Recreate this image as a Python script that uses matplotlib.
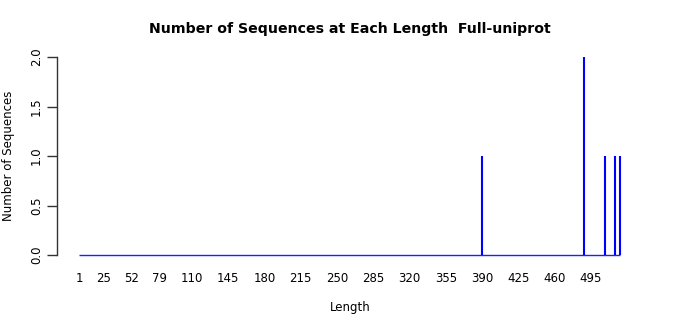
import matplotlib
matplotlib.use("Agg")
import matplotlib.pyplot as plt

# Data
lengths = [390, 488, 509, 518, 523]
counts = [1, 2, 1, 1, 1]
min_length = 1
max_length = 523
xtick_labels = [1, 25, 52, 79, 110, 145, 180, 215, 250, 285, 320, 355, 390, 425, 460, 495]
yticks = [0.0, 0.5, 1.0, 1.5, 2.0]

fig = plt.figure(figsize=(7, 3.15), dpi=100)
ax = fig.add_axes([57/700, 60/315, 583/700, 198/315])

ax.hlines(0, min_length, max_length, color="#2222ee", linewidth=1.0, clip_on=False)
ax.vlines(lengths, 0, counts, color="#0000ff", linewidth=1.5, clip_on=False)

ax.set_xlim(-20.23, 542.3)
ax.set_ylim(0, 2)

for s in ["top", "right", "bottom"]:
    ax.spines[s].set_visible(False)
ax.spines["left"].set_color("#333333")
ax.spines["left"].set_linewidth(1.0)

ax.set_xticks(xtick_labels)
ax.set_xticklabels([str(v) for v in xtick_labels], fontsize=8.5)
ax.tick_params(axis="x", length=0, pad=12)

ax.set_yticks(yticks)
ax.set_yticklabels([f"{v:.1f}" for v in yticks], fontsize=8.5, rotation=90, va="center")
ax.tick_params(axis="y", length=7, width=1, color="#333333", pad=3)

ax.set_xlabel("Length", fontsize=8.5, va="center")
ax.xaxis.set_label_coords(0.5 - (57 + 583/2 - 350) / 583, (255 - 307) / 198)
ax.set_ylabel("Number of Sequences", fontsize=8.5, va="center")
ax.yaxis.set_label_coords((9 - 57) / 583, 0.5)
fig.text(350/700, 1 - 29/315, "Number of Sequences at Each Length  Full-uniprot",
         ha="center", va="center", fontsize=10.2, fontweight="bold")

fig.savefig("out.png", dpi=100)
